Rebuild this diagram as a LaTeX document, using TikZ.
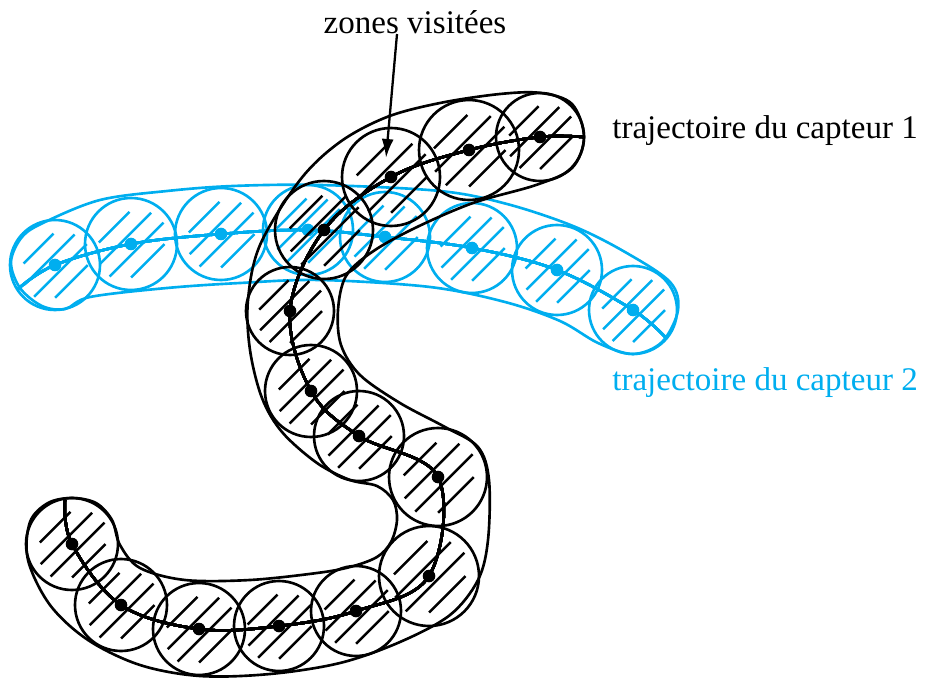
\documentclass[tikz,border=0pt]{standalone}
\usepackage{fontspec}
\setmainfont{Liberation Serif}
\usetikzlibrary{arrows.meta,calc}
\definecolor{bleucapteur}{RGB}{0,174,239}
\tikzset{
  trait/.style    ={line width=1.5pt},
  hachure/.style  ={line width=1.4pt},
  enveloppe/.style={trait,smooth cycle,tension=0.55},
  traj/.style     ={trait,smooth,tension=0.6},
  fleche/.style   ={-{Latex[length=3.8mm,width=2.4mm]},line width=1.3pt},
  lbl/.style      ={font=\fontsize{18.8}{22}\selectfont,inner sep=0pt},
}
% zone balayee : cercle, hachures a 45 degres, point central
\newcommand{\zone}[3]{%
  \draw[trait,#3] (#1) circle (#2);
  \foreach \d/\f in {-23.25/0.55,-7.75/0.8,7.75/0.84,23.25/0.6}{
    \pgfmathsetmacro\dd{\d*#2/45}
    \pgfmathsetmacro\cc{\dd*0.7071}
    \pgfmathsetmacro\hh{\f*sqrt(#2*#2-\dd*\dd)*0.7071}
    \draw[hachure,#3] ($(#1)+(\cc-\hh,\cc+\hh)$) -- ($(#1)+(\cc+\hh,\cc-\hh)$);
  }
  \fill[#3] (#1) circle (6.3);
}

\begin{document}
\begin{tikzpicture}[x=0.02cm,y=-0.02cm]
  \useasboundingbox (0,0) rectangle (928,678);

  % capteur 2
  \foreach \n/\x/\y in {1/55/265,2/131/244,3/221/234,4/308/230,
                        5/385/237,6/472/248,7/557/270,8/633/310}
    \coordinate (c\n) at (\x,\y);
  \coordinate (cdeb) at (18,289);
  \coordinate (cfin) at (666,338);
  \draw[enveloppe,bleucapteur] plot coordinates {
    (45,222) (22,237) (11,262) (20,288) (42,306) (65,309) (90,297)
    (167,288) (240,283) (320,280) (430,287) (505,302) (560,321)
    (598,343) (633,354) (662,342) (678,310) (670,282)
    (625,252) (573,226) (507,204) (440,191) (320,185) (233,186)
    (167,191) (100,200)};
  \foreach \n/\r in {1/45,2/46,3/46,4/45,5/45,6/45,7/45,8/44}
    \zone{c\n}{\r}{bleucapteur}
  \draw[traj,bleucapteur] plot coordinates {(cdeb) (c1) (c2) (c3) (c4)
    (c5) (c6) (c7) (c8) (cfin)};

  % capteur 1
  \foreach \n/\x/\y in {1/540/137,2/469/150,3/391/177,4/324/230,
                        5/290/311,6/311/391,7/359/436,8/438/477,
                        9/429/576,10/356/611,11/279/626,12/199/629,
                        13/121/605,14/72/544}
    \coordinate (b\n) at (\x,\y);
  \coordinate (bdeb) at (583,137);
  \coordinate (bfin) at (65,500);
  \draw[enveloppe] plot coordinates {
    (541,93) (572,104) (584,137) (572,168) (536,185) (473,203)
    (415,228) (372,252) (346,276) (338,310) (341,345) (360,375)
    (400,403) (445,427) (478,447) (489,480) (488,540) (478,580)
    (450,615) (400,642) (340,663) (270,674) (200,676) (140,665)
    (88,640) (50,605) (28,560) (30,522) (48,503) (72,498) (96,503)
    (112,520) (120,545) (140,568) (185,580) (250,580) (317,573)
    (350,567) (377,557) (391,542) (397,520) (393,500) (377,486)
    (350,480) (317,463) (282,432) (262,398) (250,350) (248,300)
    (260,245) (300,180) (340,142) (387,117) (440,103) (500,94)};
  \foreach \n/\r in {1/44,2/50,3/49,4/49,5/44,6/46,7/45,8/49,
                     9/50,10/45,11/45,12/46,13/46,14/46}
    \zone{b\n}{\r}{black}
  \draw[traj] plot coordinates {(bdeb) (b1) (b2) (b3) (b4) (b5) (b6)
    (b7) (b8) (b9) (b10) (b11) (b12) (b13) (b14) (bfin)};

  % legendes
  \node[lbl] (zones) at (415,22) {zones visitées};
  \coordinate (cible) at (386,158);
  \draw[fleche] ([xshift=-0.36cm]zones.south) -- (cible);
  \node[lbl,anchor=west] (capteur1) at (612,131) {trajectoire du capteur 1};
  \node[lbl,anchor=west,text=bleucapteur] (capteur2) at (612,383)
       {trajectoire du capteur 2};
\end{tikzpicture}
\end{document}
